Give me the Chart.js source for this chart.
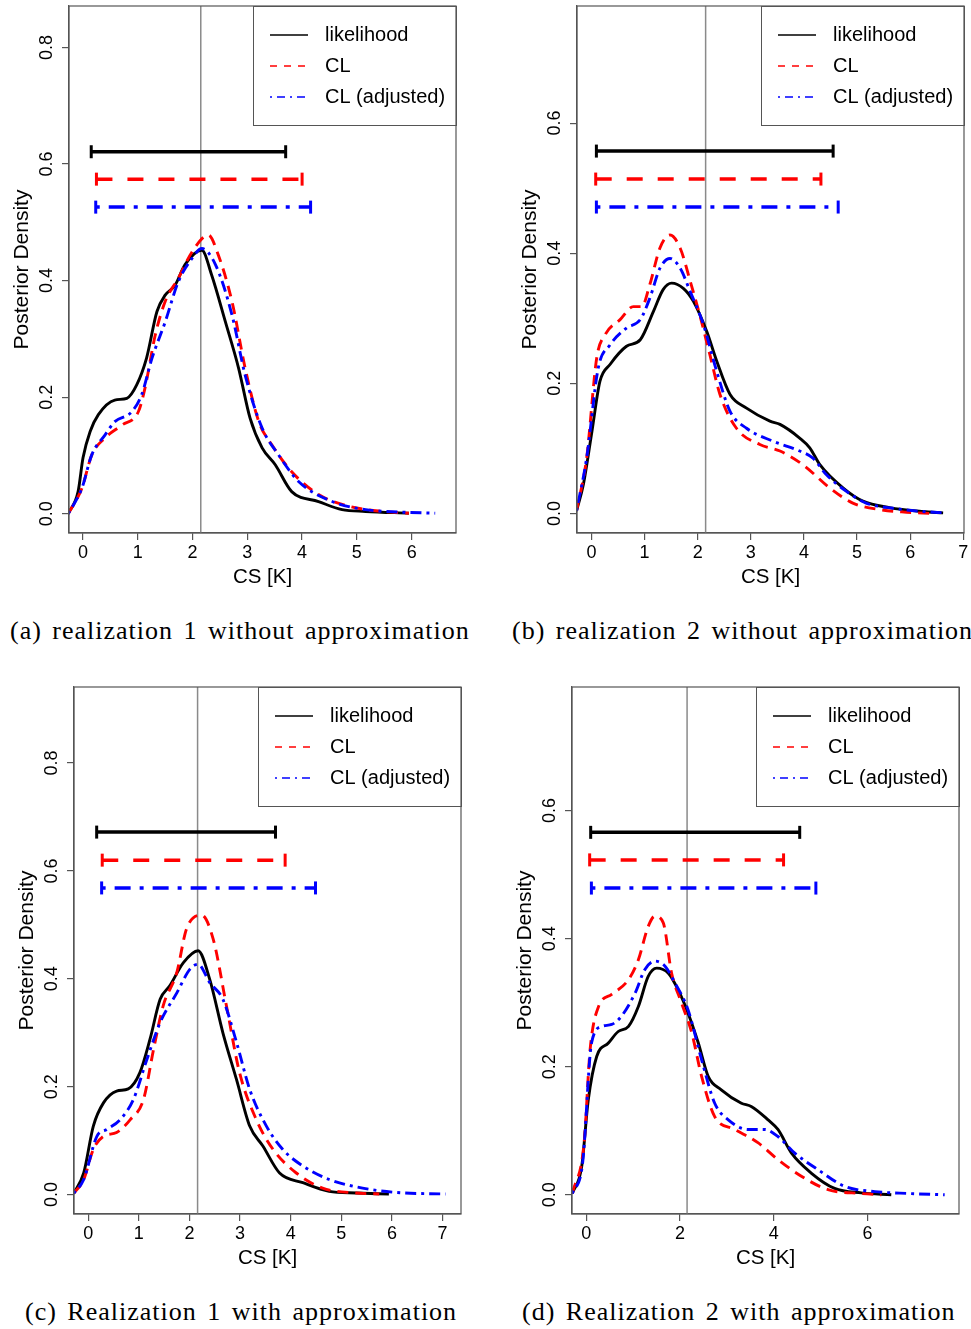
<!DOCTYPE html>
<html lang="en">
<head>
    <meta charset="UTF-8">
    <title>Posterior densities of CS</title>
    <script src="https://cdn.jsdelivr.net/npm/chart.js"></script>
    <style>
        body {
            margin: 0;
            width: 971px;
            height: 1329px;
            overflow: hidden;
            background: #fff;
            position: relative;
        }

        canvas {
            position: absolute;
        }

        .caption {
            position: absolute;
            font-family: "Liberation Serif", "DejaVu Serif", serif;
            font-size: 26px;
            line-height: 30px;
            letter-spacing: 1px;
            word-spacing: 3px;
            white-space: nowrap;
            color: #000;
        }
    </style>
</head>
<body>
    <canvas id="panelA" width="480" height="600" style="left:0px;top:0px"></canvas>
    <canvas id="panelB" width="480" height="600" style="left:508px;top:0px"></canvas>
    <canvas id="panelC" width="480" height="600" style="left:5px;top:681px"></canvas>
    <canvas id="panelD" width="480" height="600" style="left:503px;top:681px"></canvas>

    <div class="caption" style="left:10px;top:616px">(a) realization 1 without approximation</div>
    <div class="caption" style="left:512px;top:616px">(b) realization 2 without approximation</div>
    <div class="caption" style="left:25px;top:1297px">(c) Realization 1 with approximation</div>
    <div class="caption" style="left:522px;top:1297px">(d) Realization 2 with approximation</div>

    <script>
        // ---- data: [CS, density] ----
        const seriesLabels = ['likelihood', 'CL', 'CL (adjusted)'];

        // (a) realization 1 without approximation
        const aLik = [[-0.27,0],[-0.09,0.038],[0.0,0.096],[0.13,0.141],[0.28,0.170],[0.58,0.195],[0.80,0.198],[0.98,0.221],[1.16,0.267],[1.35,0.347],[1.50,0.375],[1.68,0.392],[1.86,0.427],[2.17,0.452],[2.35,0.409],[2.60,0.329],[2.84,0.250],[3.05,0.164],[3.27,0.113],[3.51,0.084],[3.81,0.038],[4.30,0.021],[4.73,0.007],[5.16,0.004],[5.95,0.001]];
        const aCL = [[-0.27,0],[-0.02,0.044],[0.16,0.101],[0.40,0.130],[0.71,0.152],[1.01,0.175],[1.13,0.215],[1.32,0.307],[1.50,0.364],[1.74,0.404],[1.99,0.449],[2.29,0.478],[2.47,0.444],[2.72,0.364],[2.96,0.250],[3.21,0.158],[3.45,0.118],[3.81,0.072],[4.30,0.033],[4.85,0.013],[5.46,0.004],[5.95,0.001]];
        const aAdj = [[-0.27,0],[-0.02,0.044],[0.16,0.101],[0.40,0.135],[0.58,0.158],[0.89,0.175],[1.07,0.204],[1.26,0.267],[1.50,0.329],[1.74,0.398],[1.99,0.438],[2.17,0.455],[2.42,0.427],[2.72,0.341],[2.96,0.238],[3.27,0.147],[3.57,0.101],[3.94,0.055],[4.55,0.021],[5.16,0.007],[5.76,0.003],[6.43,0.001]];

        // (b) realization 2 without approximation
        const bLik = [[-0.28,0.004],[-0.15,0.045],[0.01,0.126],[0.16,0.203],[0.35,0.229],[0.66,0.257],[0.92,0.267],[1.17,0.311],[1.35,0.344],[1.51,0.354],[1.73,0.346],[1.92,0.326],[2.17,0.280],[2.36,0.234],[2.61,0.183],[2.92,0.162],[3.36,0.142],[3.55,0.137],[3.92,0.116],[4.11,0.101],[4.30,0.075],[4.74,0.039],[5.11,0.019],[5.61,0.009],[6.24,0.003],[6.62,0.001]];
        const bCL = [[-0.28,0.004],[-0.09,0.085],[0.10,0.239],[0.26,0.275],[0.54,0.298],[0.79,0.318],[0.95,0.318],[1.10,0.352],[1.29,0.408],[1.48,0.428],[1.67,0.408],[1.86,0.357],[2.04,0.305],[2.23,0.244],[2.42,0.183],[2.73,0.131],[3.17,0.106],[3.55,0.096],[3.98,0.075],[4.49,0.039],[4.92,0.016],[5.43,0.006],[5.93,0.002],[6.40,0.0]];
        const bAdj = [[-0.28,0.004],[-0.09,0.085],[0.13,0.224],[0.35,0.259],[0.66,0.285],[0.92,0.298],[1.10,0.331],[1.29,0.377],[1.48,0.392],[1.67,0.377],[1.86,0.341],[2.11,0.290],[2.36,0.218],[2.61,0.157],[2.92,0.131],[3.42,0.111],[3.92,0.096],[4.17,0.085],[4.42,0.060],[4.80,0.034],[5.17,0.016],[5.68,0.008],[6.24,0.003],[6.65,0.001]];

        // (c) Realization 1 with approximation
        const cLik = [[-0.29,0.002],[-0.09,0.040],[0.10,0.127],[0.30,0.170],[0.56,0.192],[0.79,0.196],[1.02,0.226],[1.22,0.288],[1.42,0.362],[1.61,0.387],[1.88,0.430],[2.17,0.452],[2.40,0.399],[2.66,0.300],[2.93,0.213],[3.19,0.127],[3.45,0.090],[3.78,0.040],[4.24,0.022],[4.76,0.006],[5.29,0.003],[5.94,0.001]];
        const cCL = [[-0.29,0.002],[-0.09,0.028],[0.10,0.084],[0.30,0.108],[0.56,0.115],[0.83,0.139],[1.09,0.176],[1.29,0.269],[1.48,0.350],[1.75,0.412],[1.94,0.492],[2.24,0.518],[2.47,0.473],[2.73,0.350],[2.99,0.226],[3.32,0.139],[3.65,0.084],[4.11,0.040],[4.63,0.012],[5.29,0.003],[5.75,0.001]];
        const cAdj = [[-0.29,0.002],[-0.09,0.028],[0.17,0.108],[0.37,0.121],[0.63,0.139],[0.89,0.176],[1.16,0.251],[1.42,0.319],[1.75,0.374],[2.01,0.418],[2.17,0.427],[2.40,0.393],[2.66,0.362],[2.93,0.282],[3.19,0.195],[3.52,0.127],[3.84,0.084],[4.24,0.053],[4.76,0.028],[5.42,0.012],[6.08,0.004],[7.06,0.001]];

        // (d) Realization 2 with approximation
        const dLik = [[-0.30,0.002],[-0.10,0.044],[0.04,0.148],[0.22,0.216],[0.47,0.237],[0.68,0.255],[0.90,0.263],[1.11,0.294],[1.32,0.341],[1.50,0.354],[1.75,0.346],[1.96,0.320],[2.17,0.284],[2.39,0.237],[2.60,0.185],[2.88,0.164],[3.31,0.143],[3.52,0.138],[3.88,0.117],[4.09,0.102],[4.38,0.065],[4.80,0.034],[5.30,0.010],[5.87,0.003],[6.51,0.0]];
        const dCL = [[-0.30,0.002],[-0.05,0.080],[0.08,0.227],[0.26,0.294],[0.54,0.313],[0.90,0.336],[1.11,0.367],[1.32,0.419],[1.46,0.435],[1.64,0.425],[1.82,0.346],[2.03,0.300],[2.25,0.253],[2.46,0.185],[2.74,0.122],[3.17,0.102],[3.67,0.081],[4.09,0.055],[4.59,0.029],[5.16,0.008],[5.87,0.002],[6.30,0.0]];
        const dAdj = [[-0.30,0.002],[-0.08,0.050],[0.11,0.237],[0.33,0.263],[0.54,0.266],[0.75,0.279],[1.04,0.315],[1.25,0.352],[1.46,0.365],[1.68,0.357],[1.89,0.331],[2.17,0.289],[2.46,0.211],[2.74,0.143],[3.03,0.117],[3.45,0.102],[3.81,0.102],[4.09,0.091],[4.45,0.065],[4.95,0.039],[5.52,0.013],[6.16,0.005],[6.87,0.002],[7.65,0.0]];

        // credible intervals: bar height, lower, upper (likelihood, CL, CL adjusted)
        const aLevel = [0.621, 0.574, 0.526], aLow = [0.15, 0.245, 0.232], aHigh = [3.70, 4.00, 4.155];
        const bLevel = [0.557, 0.514, 0.471], bLow = [0.094, 0.081, 0.094], bHigh = [4.55, 4.32, 4.645];
        const cLevel = [0.672, 0.620, 0.5685], cLow = [0.166, 0.276, 0.264], cHigh = [3.70, 3.89, 4.49];
        const dLevel = [0.566, 0.523, 0.479], dLow = [0.092, 0.07, 0.107], dHigh = [4.555, 4.21, 4.90];

        // true value (vertical line)
        const trueCS = [2.15, 2.15, 2.16, 2.15];

        // axis ticks and ranges
        const aXTicks = [0, 1, 2, 3, 4, 5, 6], aYTicks = [0, 0.2, 0.4, 0.6, 0.8];
        const bXTicks = [0, 1, 2, 3, 4, 5, 6, 7], bYTicks = [0, 0.2, 0.4, 0.6];
        const cXTicks = [0, 1, 2, 3, 4, 5, 6, 7], cYTicks = [0, 0.2, 0.4, 0.6, 0.8];
        const dXTicks = [0, 2, 4, 6], dYTicks = [0, 0.2, 0.4, 0.6];
        const aXRange = [-0.256, 6.81], aYRange = [-0.033, 0.871];
        const bXRange = [-0.271, 7.013], bYRange = [-0.030, 0.780];
        const cXRange = [-0.282, 7.365], cYRange = [-0.036, 0.941];
        const dXRange = [-0.307, 7.956], dYRange = [-0.030, 0.793];

        // ---- styles ----
        const seriesColors = ['#000000', '#ff0000', '#0000ff'];
        const curveDash = [[], [11, 7], [3, 5, 11, 5]];
        const barDash = [[], [16, 15], [4, 9, 16, 9]];
        const legendDash = [[], [7, 7], [2, 5, 8, 5]];

        Chart.defaults.font.family = '"Liberation Sans", Arial, Helvetica, sans-serif';
        Chart.defaults.color = '#000';

        // frame around the plot region (R style box)
        const frameBox = {
            id: 'frameBox',
            afterDraw(chart) {
                const { ctx, chartArea: a } = chart;
                ctx.save();
                ctx.strokeStyle = '#555';
                ctx.lineWidth = 1.2;
                ctx.strokeRect(a.left, a.top, a.right - a.left, a.bottom - a.top);
                ctx.restore();
            }
        };

        // boxed legend in the top-right corner
        const boxLegend = {
            id: 'boxLegend',
            afterDraw(chart) {
                const { ctx, chartArea: a } = chart;
                const w = 203, h = 119;
                const x0 = a.right - w, y0 = a.top;
                ctx.save();
                ctx.strokeStyle = '#555';
                ctx.lineWidth = 1;
                ctx.strokeRect(x0 + 0.5, y0 + 0.5, w, h);
                ctx.font = '20px "Liberation Sans", Arial, sans-serif';
                ctx.textBaseline = 'middle';
                ctx.fillStyle = '#000';
                seriesLabels.forEach((label, i) => {
                    const y = y0 + 29 + i * 31;
                    ctx.strokeStyle = seriesColors[i];
                    ctx.lineWidth = 1.5;
                    ctx.setLineDash(legendDash[i]);
                    ctx.beginPath();
                    ctx.moveTo(x0 + 17, y);
                    ctx.lineTo(x0 + 55, y);
                    ctx.stroke();
                    ctx.setLineDash([]);
                    ctx.fillText(label, x0 + 72, y);
                });
                ctx.restore();
            }
        };

        function toPoints(pairs) {
            return pairs.map(([x, y]) => ({ x, y }));
        }

        function makePanel(id, curves, level, low, high, trueValue, xTicks, yTicks, xRange, yRange) {
            const datasets = [];

            // interval bars with end caps
            level.forEach((lv, i) => {
                datasets.push({
                    label: seriesLabels[i] + ' interval',
                    data: [{ x: low[i], y: lv }, { x: high[i], y: lv }],
                    borderColor: seriesColors[i],
                    borderWidth: 3.5,
                    borderDash: barDash[i],
                    pointStyle: 'line',
                    rotation: 90,
                    pointRadius: 6.5,
                    pointBorderWidth: 3,
                    pointBorderColor: seriesColors[i],
                    order: 0
                });
            });

            // density curves
            curves.forEach((pairs, i) => {
                datasets.push({
                    label: seriesLabels[i],
                    data: toPoints(pairs),
                    borderColor: seriesColors[i],
                    borderWidth: 2.9,
                    borderDash: curveDash[i],
                    cubicInterpolationMode: 'monotone',
                    pointRadius: 0,
                    order: 3 - i
                });
            });

            // true value line
            datasets.push({
                label: 'true value',
                data: [{ x: trueValue, y: yRange[0] }, { x: trueValue, y: yRange[1] }],
                borderColor: '#8a8a8a',
                borderWidth: 1.5,
                pointRadius: 0,
                order: 10
            });

            new Chart(document.getElementById(id), {
                type: 'line',
                data: { datasets },
                options: {
                    responsive: false,
                    animation: false,
                    events: [],
                    layout: { autoPadding: false, padding: { left: 0, top: 6, right: 24, bottom: 0 } },
                    plugins: { legend: { display: false }, tooltip: { enabled: false } },
                    scales: {
                        x: {
                            type: 'linear',
                            min: xRange[0],
                            max: xRange[1],
                            afterBuildTicks: s => { s.ticks = xTicks.map(v => ({ value: v })); },
                            afterFit: s => { s.height = 67; s.paddingLeft = 0; s.paddingRight = 0; },
                            ticks: { padding: 2, maxRotation: 0, font: { size: 18 }, color: '#000' },
                            grid: { drawOnChartArea: false, tickLength: 7, color: '#555', lineWidth: 1.2 },
                            border: { color: '#555', width: 1.2 },
                            title: { display: true, text: 'CS [K]', font: { size: 20.5 }, color: '#000', padding: { top: 0, bottom: 10 } }
                        },
                        y: {
                            type: 'linear',
                            min: yRange[0],
                            max: yRange[1],
                            afterBuildTicks: s => { s.ticks = yTicks.map(v => ({ value: v })); },
                            afterFit: s => { s.width = 69; s.paddingTop = 0; s.paddingBottom = 0; },
                            ticks: {
                                minRotation: 90,
                                maxRotation: 90,
                                crossAlign: 'center',
                                padding: 2,
                                font: { size: 18 },
                                color: '#000',
                                callback: v => v.toFixed(1)
                            },
                            grid: { drawOnChartArea: false, tickLength: 7, color: '#555', lineWidth: 1.2 },
                            border: { color: '#555', width: 1.2 },
                            title: { display: true, text: 'Posterior Density', font: { size: 21 }, color: '#000', padding: { top: 10, bottom: 0 } }
                        }
                    }
                },
                plugins: [frameBox, boxLegend]
            });
        }

        makePanel('panelA', [aLik, aCL, aAdj], aLevel, aLow, aHigh, trueCS[0], aXTicks, aYTicks, aXRange, aYRange);
        makePanel('panelB', [bLik, bCL, bAdj], bLevel, bLow, bHigh, trueCS[1], bXTicks, bYTicks, bXRange, bYRange);
        makePanel('panelC', [cLik, cCL, cAdj], cLevel, cLow, cHigh, trueCS[2], cXTicks, cYTicks, cXRange, cYRange);
        makePanel('panelD', [dLik, dCL, dAdj], dLevel, dLow, dHigh, trueCS[3], dXTicks, dYTicks, dXRange, dYRange);
    </script>
</body>
</html>
